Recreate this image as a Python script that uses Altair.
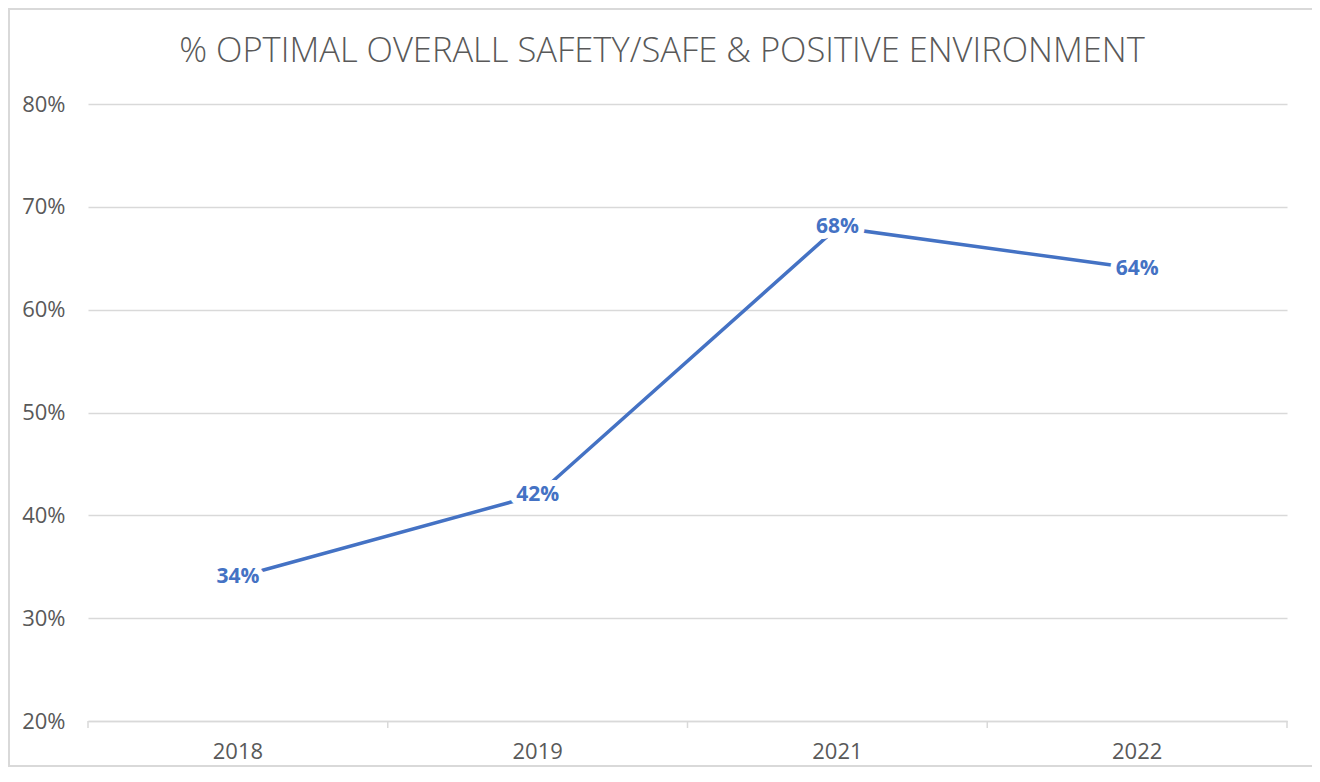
import altair as alt
import pandas as pd

years = ["2018", "2019", "2021", "2022"]
values = [0.34, 0.42, 0.68, 0.64]
labels = ["34%", "42%", "68%", "64%"]
title_text = "% OPTIMAL OVERALL SAFETY/SAFE & POSITIVE ENVIRONMENT"

df = pd.DataFrame({"year": years, "value": values, "label": labels})

GRAY = "#595959"
BLUE = "#4472C4"
GRID = "#d9d9d9"

W, H = 1199, 617

xscale = alt.Scale(domain=years, paddingInner=0, paddingOuter=0)
yscale = alt.Scale(domain=[0.2, 0.8], nice=False, zero=False)

base = alt.Chart(df)

line = base.mark_line(color=BLUE, strokeWidth=3.5).encode(
    x=alt.X("year:N", scale=xscale, sort=years,
            axis=alt.Axis(title=None, labelAngle=0, labelFontSize=22, labelColor=GRAY,
                          labelFont="Open Sans", labelPadding=20, ticks=False,
                          domainColor=GRID, domainWidth=1.5, grid=False)),
    y=alt.Y("value:Q", scale=yscale,
            axis=alt.Axis(title=None, format=".0%", values=[0.2, 0.3, 0.4, 0.5, 0.6, 0.7, 0.8],
                          labelFontSize=22, labelColor=GRAY, labelFont="Open Sans",
                          labelPadding=23, ticks=False, domain=False,
                          gridColor=GRID, gridWidth=1.5)),
)

ticks = base.mark_rule(color=GRID, strokeWidth=1.5).encode(
    x=alt.X("year:N", scale=xscale, sort=years, bandPosition=0, axis=None),
    y=alt.value(H), y2=alt.value(H + 7),
)
end_tick = alt.Chart(pd.DataFrame({"k": [0]})).mark_rule(color=GRID, strokeWidth=1.5).encode(
    x=alt.value(W), y=alt.value(H), y2=alt.value(H + 7),
)

halo = base.mark_text(fontSize=21, fontWeight="bold", font="Open Sans",
                      stroke="white", strokeWidth=12, strokeJoin="round",
                      color="white").encode(
    x=alt.X("year:N", scale=xscale, sort=years, axis=None),
    y=alt.Y("value:Q", scale=yscale, axis=None),
    text="label:N",
)

text = base.mark_text(fontSize=21, fontWeight="bold", font="Open Sans",
                      color=BLUE).encode(
    x=alt.X("year:N", scale=xscale, sort=years, axis=None),
    y=alt.Y("value:Q", scale=yscale, axis=None),
    text="label:N",
)

title = alt.Chart(pd.DataFrame({"t": [title_text]})).mark_text(
    fontSize=34.5, font="Open Sans", fontWeight=300, color=GRAY, align="center", baseline="alphabetic"
).encode(x=alt.value(574), y=alt.value(-42), text="t:N")

border = alt.Chart(pd.DataFrame({"k": [0]})).mark_rect(fill=None, stroke=GRID, strokeWidth=2).encode(
    x=alt.value(-79), x2=alt.value(1225), y=alt.value(-95), y2=alt.value(662)
)

chart = alt.layer(border, line, ticks, end_tick, halo, text, title).resolve_axis(
    x="independent", y="independent"
).properties(
    width=W,
    height=H,
    autosize=alt.AutoSizeParams(type="none"),
    padding={"left": 80, "top": 96, "right": 25, "bottom": 50},
).configure_view(stroke=None)

chart.save("out.html", embed_options={"renderer": "svg", "actions": False})
